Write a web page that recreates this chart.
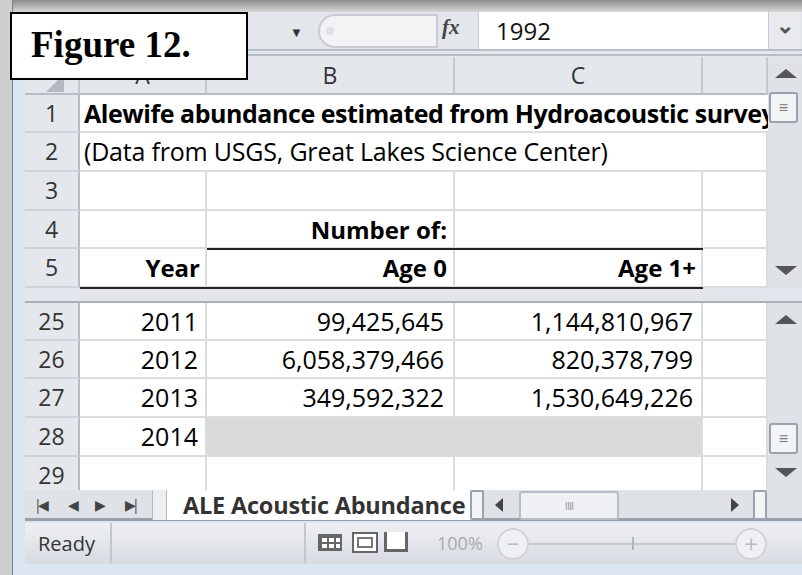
<!DOCTYPE html>
<html>
<head>
<meta charset="utf-8">
<script src="https://cdn.jsdelivr.net/npm/chart.js@4"></script>
<style>
  body { margin: 0; width: 802px; height: 575px; overflow: hidden; background: #dce6f2; font-family: 'Open Sans', sans-serif; }
  .abs { position: absolute; box-sizing: border-box; }
  .cell { position: absolute; box-sizing: border-box; border-right: 2px solid #dadcdd; border-bottom: 2px solid #dadcdd; background: #fff; white-space: nowrap; overflow: visible; font-size: 25px; line-height: 36px; color: #000; }
  .rh { position: absolute; box-sizing: border-box; background: #e4e7eb; border-right: 2px solid #b7bdc5; border-bottom: 2px solid #d0d4da; text-align: center; font-size: 23px; line-height: 36px; color: #333; }
  .ch { position: absolute; box-sizing: border-box; background: #e4e7eb; border-right: 2px solid #c4c9d0; border-bottom: 2px solid #b7bdc5; text-align: center; font-size: 23px; line-height: 36px; color: #333; }
  .r { text-align: right; padding-right: 6px; }
</style>
</head>
<body>
<div id="sheet"></div>
<script>
'use strict'

// sheet contents
let title = 'Alewife abundance estimated from Hydroacoustic survey'
let source = '(Data from USGS, Great Lakes Science Center)'
let colLetters = ['A', 'B', 'C']
let years = [2011, 2012, 2013, 2014]
let rowNums = [25, 26, 27, 28, 29]
let age0 = [99425645, 6058379466, 349592322, null]
let age1 = [1144810967, 820378799, 1530649226, null]
let formulaValue = '1992'
let sheetName = 'ALE Acoustic Abundance'

let sheet = document.getElementById('sheet')
let fmt = new Intl.NumberFormat('en-US')

function box(cls, x, y, w, h, text, style){
    let d = document.createElement('div')
    d.className = cls
    d.style.left = x + 'px'
    d.style.top = y + 'px'
    d.style.width = w + 'px'
    d.style.height = h + 'px'
    if (text != null) d.textContent = text
    if (style) d.style.cssText += style
    sheet.appendChild(d)
    return d
}

// column edges
let colX = [80, 207, 455, 703, 768]
let topRows = [95, 133, 172, 211, 249, 288]
let lowRows = [303, 341, 379, 418, 457, 495]

// window frame
box('abs', 0, 0, 802, 12, null, 'background:linear-gradient(#8c8c8c,#d8d8d8)')
box('abs', 0, 0, 12, 575, null, 'background:#cfcfcf')
box('abs', 12, 0, 1, 575, null, 'background:#7d7d7d')

// formula bar
box('abs', 25, 12, 777, 45, null, 'background:#e3e6ea')
box('abs', 25, 49, 777, 2, null, 'background:#b8bec6')
box('abs', 25, 54, 777, 2, null, 'background:#b8bec6')
box('abs', 290, 24, 16, 16, '▼', 'font-size:13px;color:#333;line-height:16px')
box('abs', 318, 14, 120, 34, null, 'border:2px solid #c8ccd2;border-radius:17px 0 0 17px;background:#f2f3f5')
box('abs', 326, 27, 8, 8, null, 'border-radius:4px;background:#dde0e4')
box('abs', 442, 15, 30, 30, 'fx', 'font-family:"Liberation Serif",serif;font-style:italic;font-weight:bold;font-size:21px;color:#444')
box('abs', 478, 12, 290, 37, formulaValue, 'background:#fff;border-left:1px solid #c8ccd2;font-size:24px;line-height:37px;padding-left:17px;color:#111')
box('abs', 768, 12, 32, 37, '⌄', 'background:#e8eaee;border-left:1px solid #c8ccd2;font-size:22px;line-height:24px;text-align:center;color:#555;font-weight:bold')

// column headers
box('ch', 25, 57, 55, 38, null)
box('abs', 46, 74, 0, 0, null, 'border-left:18px solid transparent;border-bottom:18px solid #b5b9bf')
for (let i = 0; i < 4; i++) {
    let letter = colLetters[i] || ''
    box('ch', colX[i], 57, colX[i + 1] - colX[i], 38, letter)
}

// top rows 1-5
for (let r = 0; r < 5; r++) {
    let y = topRows[r], h = topRows[r + 1] - y
    box('rh', 25, y, 55, h, String(r + 1))
    for (let c = 0; c < 4; c++) {
        box('cell', colX[c], y, colX[c + 1] - colX[c], h, null)
    }
}
// rows 1 and 2 overflow across the cells, so hide the inner lines
box('abs', 80, 95, 688, 36, null, 'background:#fff')
box('abs', 80, 133, 623, 37, null, 'background:#fff')
box('abs', 84, 95, 684, 36, title, 'font-weight:bold;font-size:25px;line-height:36px;white-space:nowrap;overflow:hidden;letter-spacing:-0.45px')
box('abs', 84, 133, 618, 37, source, 'font-size:25px;line-height:37px;white-space:nowrap;letter-spacing:-0.2px')
box('abs', colX[1], 211, colX[2] - colX[1], 37, 'Number of:', 'font-weight:bold;font-size:24px;line-height:37px;text-align:right;padding-right:8px')
box('abs', colX[0], 249, colX[1] - colX[0], 38, 'Year', 'font-weight:bold;font-size:24px;line-height:38px;text-align:right;padding-right:7px')
box('abs', colX[1], 249, colX[2] - colX[1], 38, 'Age 0', 'font-weight:bold;font-size:24px;line-height:38px;text-align:right;padding-right:8px')
box('abs', colX[2], 249, colX[3] - colX[2], 38, 'Age 1+', 'font-weight:bold;font-size:24px;line-height:38px;text-align:right;padding-right:7px')
box('abs', colX[1], 248, colX[3] - colX[1], 2, null, 'background:#222')
box('abs', colX[0], 287, colX[3] - colX[0], 2, null, 'background:#222')

// frozen pane divider
box('abs', 25, 289, 777, 14, null, 'background:#e3e6ea;border-bottom:2px solid #a9b0b9')

// data rows
for (let r = 0; r < rowNums.length; r++) {
    let y = lowRows[r], h = lowRows[r + 1] - y
    box('rh', 25, y, 55, h, String(rowNums[r]))
    let yr = years[r] != null ? String(years[r]) : ''
    box('cell r', colX[0], y, colX[1] - colX[0], h, yr, 'padding-right:7px')
    let blank = r === 3
    let a0 = age0[r] != null ? fmt.format(age0[r]) : ''
    let a1 = age1[r] != null ? fmt.format(age1[r]) : ''
    box('cell r', colX[1], y, colX[2] - colX[1], h, a0, 'padding-right:9px' + (blank ? ';background:#d9d9d9;border-right-color:#d9d9d9' : ''))
    box('cell r', colX[2], y, colX[3] - colX[2], h, a1, 'padding-right:8px' + (blank ? ';background:#d9d9d9' : ''))
    box('cell', colX[3], y, colX[4] - colX[3], h, null)
}

// vertical scrollbars
function vscroll(y0, y1, thumbY){
    box('abs', 768, y0, 34, y1 - y0, null, 'background:#dfe2e7')
    box('abs', 775, y0 + 12, 0, 0, null, 'border-left:11px solid transparent;border-right:11px solid transparent;border-bottom:9px solid #555')
    box('abs', 775, y1 - 22, 0, 0, null, 'border-left:11px solid transparent;border-right:11px solid transparent;border-top:9px solid #555')
    box('abs', 769, thumbY, 29, 31, '≡', 'background:#f3f4f6;border:2px solid #9aa2ad;border-radius:3px;text-align:center;font-size:16px;line-height:26px;color:#777')
}
vscroll(57, 288, 92)
vscroll(303, 490, 423)

// sheet tab bar
box('abs', 25, 490, 777, 31, null, 'background:#dfe2e7;border-bottom:3px solid #9aa0a8')
box('abs', 34, 494, 18, 22, '|◀', 'font-size:14px;line-height:22px;color:#444;letter-spacing:-4px')
box('abs', 68, 494, 14, 22, '◀', 'font-size:14px;line-height:22px;color:#444')
box('abs', 95, 494, 14, 22, '▶', 'font-size:14px;line-height:22px;color:#444')
box('abs', 125, 494, 18, 22, '▶|', 'font-size:14px;line-height:22px;color:#444;letter-spacing:-4px')
box('abs', 152, 490, 15, 30, null, 'background:#eceef1;border-left:1px solid #b5bac1;border-right:1px solid #b5bac1')
box('abs', 167, 490, 308, 30, sheetName, 'background:#fff;font-weight:bold;font-size:23.5px;line-height:30px;padding-left:16px;white-space:nowrap;overflow:hidden;color:#333;letter-spacing:-0.2px')
box('abs', 470, 490, 14, 30, null, 'background:#f3f4f6;border:2px solid #9aa2ad;border-radius:2px')
box('abs', 495, 498, 0, 0, null, 'border-top:7px solid transparent;border-bottom:7px solid transparent;border-right:8px solid #444')
box('abs', 519, 491, 100, 29, 'IIII', 'background:#eef0f3;border:2px solid #b8bec6;border-radius:3px;text-align:center;font-size:11px;line-height:25px;color:#999;letter-spacing:-1px')
box('abs', 731, 498, 0, 0, null, 'border-top:7px solid transparent;border-bottom:7px solid transparent;border-left:8px solid #444')
box('abs', 753, 490, 14, 30, null, 'background:#f3f4f6;border:2px solid #9aa2ad;border-radius:2px')

// status bar
box('abs', 25, 523, 777, 41, null, 'background:linear-gradient(#eef0f3,#d7dbe1)')
box('abs', 38, 523, 70, 41, 'Ready', 'font-size:20px;line-height:41px;color:#333')
box('abs', 110, 523, 2, 40, null, 'background:#c2c7ce')
box('abs', 304, 523, 2, 40, null, 'background:#c2c7ce')
box('abs', 318, 534, 24, 17, null, 'border:2px solid #666;background:repeating-linear-gradient(90deg,#666 0 2px,transparent 2px 7px),repeating-linear-gradient(#666 0 2px,#fff 2px 6px)')
box('abs', 352, 532, 26, 21, null, 'border:2px solid #666;background:#fff;box-shadow:inset 0 0 0 3px #fff, inset 0 0 0 5px #777')
box('abs', 384, 532, 24, 20, null, 'border:3px solid #666;border-top:none;background:#fff')
box('abs', 437, 523, 60, 41, '100%', 'font-size:18px;line-height:41px;color:#aaa')
box('abs', 497, 528, 32, 32, '−', 'border:2px solid #d0d4da;border-radius:16px;background:#eef0f3;text-align:center;font-size:22px;line-height:27px;color:#bbb')
box('abs', 529, 543, 206, 2, null, 'background:#c5c9cf')
box('abs', 632, 537, 2, 13, null, 'background:#b0b5bc')
box('abs', 735, 528, 32, 32, '+', 'border:2px solid #d0d4da;border-radius:16px;background:#eef0f3;text-align:center;font-size:24px;line-height:27px;color:#bbb')

// figure label
box('abs', 10, 12, 238, 68, 'Figure 12.', 'background:#fff;border:2px solid #000;font-family:"Liberation Serif",serif;font-weight:bold;font-size:37px;line-height:62px;padding-left:19px;z-index:5')
</script>
</body>
</html>
